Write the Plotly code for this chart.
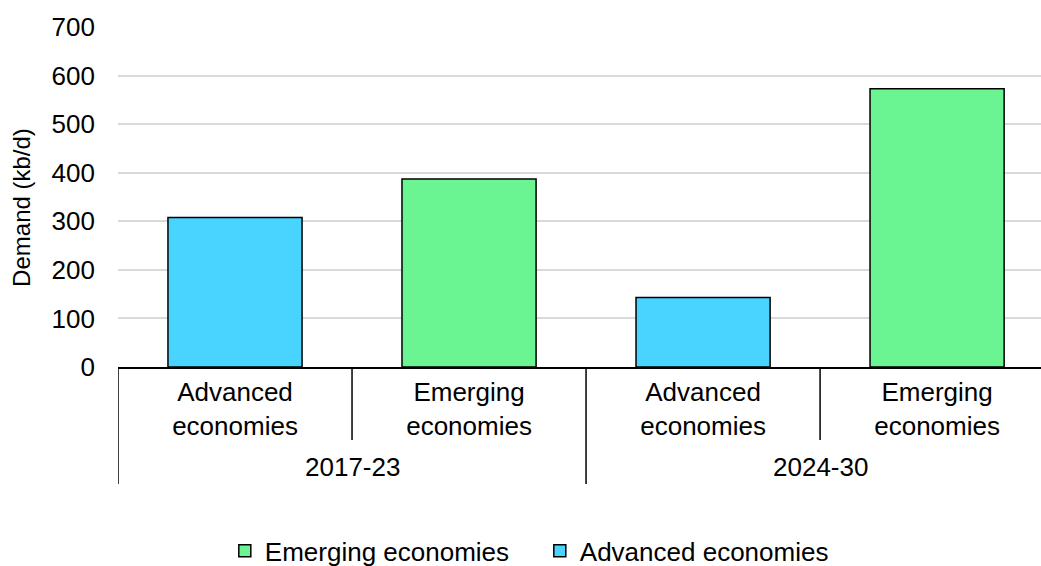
import plotly.graph_objects as go

# ---- data ----
periods = ["2017-23", "2017-23", "2024-30", "2024-30"]
groups = ["Advanced economies", "Emerging economies", "Advanced economies", "Emerging economies"]
values = [308, 387, 143, 573]
tick_labels = ["Advanced<br>economies", "Emerging<br>economies", "Advanced<br>economies", "Emerging<br>economies"]
period_names = ["2017-23", "2024-30"]
y_title = "Demand (kb/d)"

colors = {"Emerging economies": "#6AF592", "Advanced economies": "#49D3FF"}
FONT = "Liberation Sans, Arial, sans-serif"

positions = list(range(len(values)))

fig = go.Figure()
for name in ["Emerging economies", "Advanced economies"]:
    xs = [p for p, g in zip(positions, groups) if g == name]
    ys = [v for v, g in zip(values, groups) if g == name]
    fig.add_trace(go.Bar(
        x=xs, y=ys, name=name, width=0.573,
        marker=dict(color=colors[name], line=dict(color="#000000", width=1.5)),
    ))

# category dividers (short) and period dividers (long)
shapes = []
for i in positions:
    boundary = i - 0.5
    new_period = (i == 0) or (periods[i] != periods[i - 1])
    shapes.append(dict(type="line", xref="x", yref="paper",
                       x0=boundary, x1=boundary, y0=0,
                       y1=-0.344 if new_period else -0.2147,
                       line=dict(color="#000000", width=1.5)))

annotations = []
for pname in period_names:
    idx = [i for i, p in enumerate(periods) if p == pname]
    center = sum(idx) / len(idx)
    annotations.append(dict(x=center, y=-0.294, xref="x", yref="paper",
                            text=pname, showarrow=False, yanchor="middle",
                            font=dict(family=FONT, size=26, color="#000000")))

# y-axis title
annotations.append(dict(x=-0.104, y=0.468, xref="paper", yref="paper", text=y_title,
                        textangle=-90, showarrow=False, xanchor="center", yanchor="middle",
                        font=dict(family=FONT, size=24, color="#000000")))

fig.update_layout(
    width=1041, height=566,
    margin=dict(l=118, r=0, t=27, b=199, autoexpand=False),
    paper_bgcolor="white", plot_bgcolor="white",
    barmode="overlay",
    font=dict(family=FONT, size=26, color="#000000"),
    shapes=shapes, annotations=annotations,
    legend=dict(orientation="h", x=0.457, xanchor="center", y=-0.541, yanchor="middle",
                font=dict(family=FONT, size=26, color="#000000"),
                entrywidth=270, traceorder="normal", itemclick=False),
    xaxis=dict(range=[-0.5, 3.444], tickmode="array", tickvals=positions, ticktext=tick_labels,
               showgrid=False, zeroline=False, showline=True, linecolor="#000000", linewidth=1.5,
               ticks="", ticklabelstandoff=1, tickfont=dict(family=FONT, size=26, color="#000000")),
    yaxis=dict(range=[0, 700], dtick=100, showgrid=True, gridcolor="#D9D9D9", gridwidth=1.5,
               zeroline=False, showline=False, ticks="", ticklabelstandoff=22,
               tickfont=dict(family=FONT, size=26, color="#000000")),
)

fig.write_html("out.html", config={"displayModeBar": False},
               post_script="document.body.style.margin='0';document.body.style.overflow='hidden';")
